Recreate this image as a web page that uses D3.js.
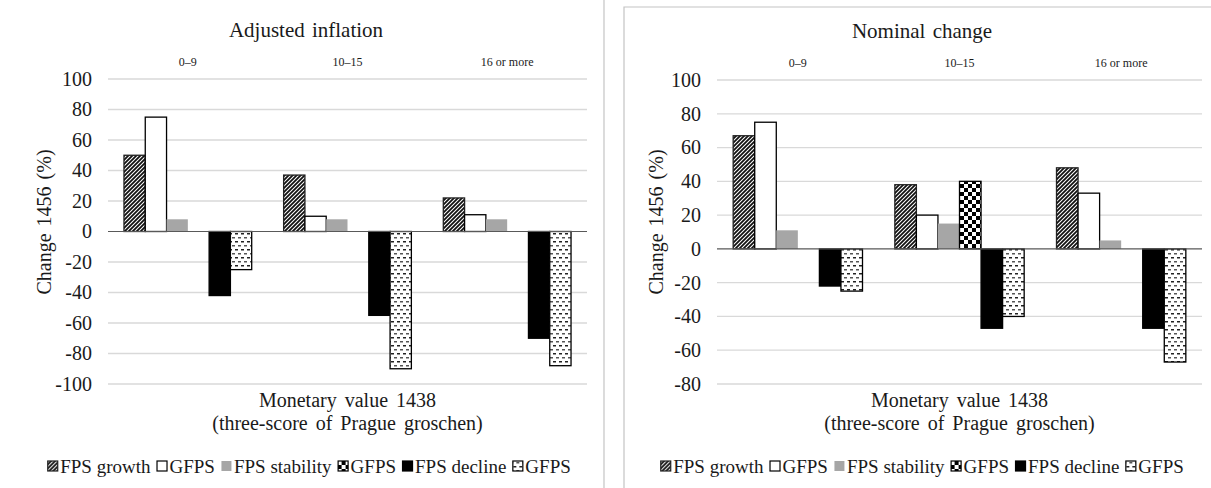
<!DOCTYPE html>
<html>
<head>
<meta charset="utf-8">
<script src="https://cdn.jsdelivr.net/npm/d3@7"></script>
<style>
  body { margin: 0; background: #fff; }
  svg text { font-family: "Liberation Serif", serif; fill: #1a1a1a; }
</style>
</head>
<body>
<svg id="chart" width="1211" height="488"></svg>
<script>
// categories and series
var categories = ["0–9", "10–15", "16 or more"];
var seriesNames = ["FPS growth", "GFPS", "FPS stability", "GFPS", "FPS decline", "GFPS"];

// adjusted for inflation (%)
var adjGrowth        = [50, 37, 22];
var adjGfpsGrowth    = [75, 10, 11];
var adjStability     = [8, 8, 8];
var adjGfpsStability = [0, 0, 0];
var adjDecline       = [-42, -55, -70];
var adjGfpsDecline   = [-25, -90, -88];

// nominal change (%)
var nomGrowth        = [67, 38, 48];
var nomGfpsGrowth    = [75, 20, 33];
var nomStability     = [11, 15, 5];
var nomGfpsStability = [0, 40, 0];
var nomDecline       = [-22, -47, -47];
var nomGfpsDecline   = [-25, -40, -67];

var adjTicks = [100, 80, 60, 40, 20, 0, -20, -40, -60, -80, -100];
var nomTicks = [100, 80, 60, 40, 20, 0, -20, -40, -60, -80];

var FONT = '"Liberation Serif", serif';

var svg = d3.select('#chart');
var defs = svg.append('defs');

// fill patterns, like the Excel ones
var hatch = defs.append('pattern').attr('id', 'hatch')
  .attr('patternUnits', 'userSpaceOnUse').attr('width', 4).attr('height', 4);
hatch.append('rect').attr('width', 4).attr('height', 4).attr('fill', '#fff');
hatch.append('path').attr('d', 'M-1,1 l2,-2 M0,4 l4,-4 M3,5 l2,-2')
  .attr('stroke', '#111').attr('stroke-width', 1.8);

var checker = defs.append('pattern').attr('id', 'checker')
  .attr('patternUnits', 'userSpaceOnUse').attr('width', 8).attr('height', 8);
checker.append('rect').attr('width', 8).attr('height', 8).attr('fill', '#fff');
checker.append('rect').attr('width', 4).attr('height', 4).attr('fill', '#000');
checker.append('rect').attr('x', 4).attr('y', 4).attr('width', 4).attr('height', 4).attr('fill', '#000');

var dashes = defs.append('pattern').attr('id', 'dashes')
  .attr('patternUnits', 'userSpaceOnUse').attr('width', 6).attr('height', 8);
dashes.append('rect').attr('width', 6).attr('height', 8).attr('fill', '#fff');
dashes.append('rect').attr('x', 1).attr('y', 1).attr('width', 3).attr('height', 1.5).attr('fill', '#222');
dashes.append('rect').attr('x', 4).attr('y', 5).attr('width', 2).attr('height', 1.5).attr('fill', '#555');
dashes.append('rect').attr('x', 0).attr('y', 5).attr('width', 1).attr('height', 1.5).attr('fill', '#555');

var seriesFill   = ['url(#hatch)', '#fff', '#a6a6a6', 'url(#checker)', '#000', 'url(#dashes)'];
var seriesStroke = ['#222', '#000', 'none', '#000', '#000', '#000'];

function drawPanel(cfg) {
  var g = svg.append('g').style('font-family', FONT);

  var y = d3.scaleLinear().domain(cfg.domain).range([cfg.bottom, cfg.top]);
  var x0 = d3.scaleBand().domain(categories).range([cfg.left, cfg.right]);
  var x1 = d3.scaleBand().domain(d3.range(seriesNames.length))
    .range([0, x0.bandwidth()]).paddingOuter(0.75);

  // frame
  g.append('path').attr('d', cfg.frame).attr('fill', 'none')
    .attr('stroke', '#c4c4c4').attr('stroke-width', 1.2);

  // gridlines
  g.selectAll('line.grid').data(cfg.ticks.filter(function(t) { return t !== 0; }))
    .enter().append('line')
    .attr('x1', cfg.left).attr('x2', cfg.right)
    .attr('y1', function(d) { return y(d); }).attr('y2', function(d) { return y(d); })
    .attr('stroke', '#d9d9d9').attr('stroke-width', 1.3);

  // y axis labels
  var axis = d3.axisLeft(y).tickValues(cfg.ticks).tickSize(0).tickPadding(16)
    .tickFormat(function(d) { return String(d); });
  var ax = g.append('g').attr('transform', 'translate(' + cfg.left + ',0)').call(axis);
  ax.attr('font-family', FONT).attr('font-size', 20);
  ax.select('.domain').remove();
  ax.selectAll('text').style('font-size', '20px').style('fill', '#1a1a1a');

  // bars
  var rows = [];
  cfg.values.forEach(function(vals, s) {
    vals.forEach(function(v, c) { if (v !== 0) rows.push({ s: s, c: c, v: v }); });
  });
  g.selectAll('rect.bar').data(rows).enter().append('rect')
    .attr('class', 'bar')
    .attr('x', function(d) { return x0(categories[d.c]) + x1(d.s); })
    .attr('width', x1.bandwidth())
    .attr('y', function(d) { return y(Math.max(0, d.v)); })
    .attr('height', function(d) { return Math.abs(y(d.v) - y(0)); })
    .attr('fill', function(d) { return seriesFill[d.s]; })
    .attr('stroke', function(d) { return seriesStroke[d.s]; })
    .attr('stroke-width', 1.3);

  // zero line
  g.append('line').attr('x1', cfg.left).attr('x2', cfg.right)
    .attr('y1', y(0)).attr('y2', y(0))
    .attr('stroke', '#595959').attr('stroke-width', 1.2);

  // category labels above plot
  g.selectAll('text.cat').data(categories).enter().append('text')
    .attr('class', 'cat')
    .attr('x', function(d) { return x0(d) + x0.bandwidth() / 2; })
    .attr('y', cfg.top - 13)
    .attr('text-anchor', 'middle').style('font-size', '12px')
    .text(function(d) { return d; });

  // title
  g.append('text').attr('x', cfg.titleX).attr('y', cfg.titleY)
    .attr('text-anchor', 'middle').style('font-size', '21px').style('word-spacing', '2px')
    .text(cfg.title);

  // y axis title
  g.append('text')
    .attr('transform', 'translate(' + cfg.yTitleX + ',222) rotate(-90)')
    .attr('text-anchor', 'middle').attr('dominant-baseline', 'central')
    .style('font-size', '20px').style('word-spacing', '2px')
    .text('Change 1456 (%)');

  // x axis title
  var xt = g.append('text').attr('text-anchor', 'middle')
    .style('font-size', '20px').style('word-spacing', '3px');
  var cx = (cfg.left + cfg.right) / 2;
  xt.append('tspan').attr('x', cx).attr('y', 407).text('Monetary value 1438');
  xt.append('tspan').attr('x', cx).attr('y', 430).text('(three-score of Prague groschen)');

  // legend
  var lg = g.append('g');
  var xpos = 0;
  seriesNames.forEach(function(name, i) {
    var it = lg.append('g').attr('transform', 'translate(' + xpos + ',0)');
    it.append('rect').attr('x', 0.5).attr('y', -12).attr('width', 10).attr('height', 10)
      .attr('fill', seriesFill[i])
      .attr('stroke', seriesStroke[i]).attr('stroke-width', 1.2);
    var t = it.append('text').attr('x', 13).attr('y', 0)
      .style('font-size', '19px').text(name);
    xpos += 13 + t.node().getComputedTextLength() + 6;
  });
  lg.attr('transform', 'translate(' + (cfg.legendX - (xpos - 6) / 2) + ',' + cfg.legendY + ')');
}

drawPanel({
  title: 'Adjusted inflation',
  values: [adjGrowth, adjGfpsGrowth, adjStability, adjGfpsStability, adjDecline, adjGfpsDecline],
  ticks: adjTicks, domain: [-100, 100],
  left: 108, right: 587, top: 79, bottom: 384,
  titleX: 306, titleY: 37, yTitleX: 44,
  legendX: 309, legendY: 473,
  frame: 'M604,0 V488'
});

drawPanel({
  title: 'Nominal change',
  values: [nomGrowth, nomGfpsGrowth, nomStability, nomGfpsStability, nomDecline, nomGfpsDecline],
  ticks: nomTicks, domain: [-80, 100],
  left: 717, right: 1202, top: 80, bottom: 384,
  titleX: 922, titleY: 38, yTitleX: 656,
  legendX: 922, legendY: 473,
  frame: 'M624,488 V7 H1212'
});
</script>
</body>
</html>
